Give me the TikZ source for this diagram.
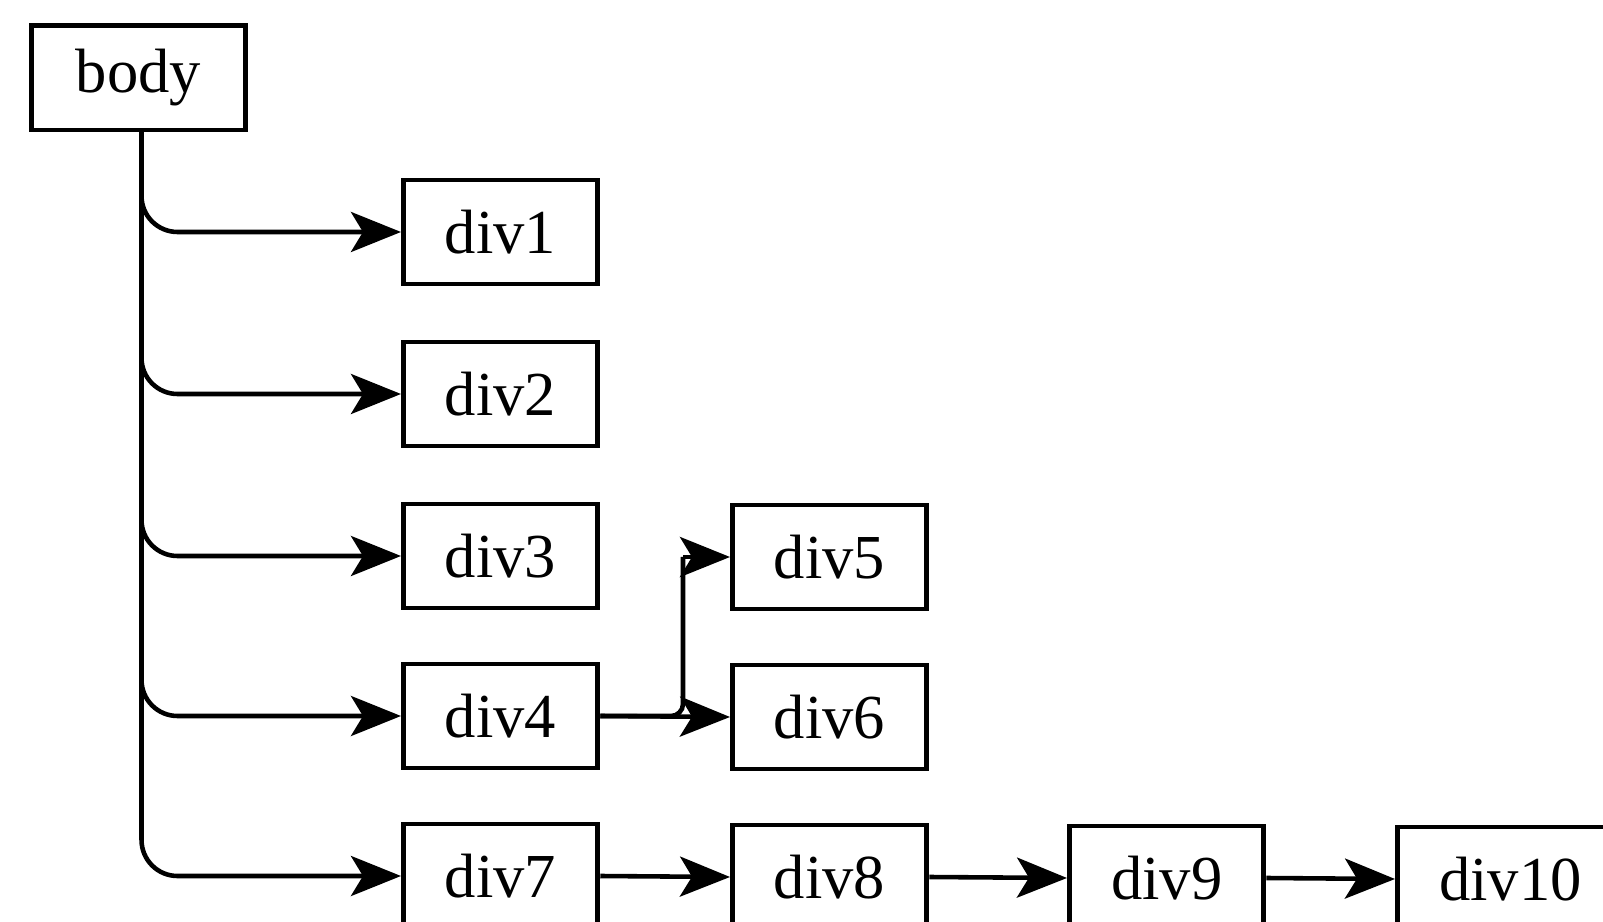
\documentclass[tikz,border=0pt]{standalone}
\usepackage{fontspec}
\setmainfont{Liberation Serif}
\usetikzlibrary{arrows.meta}
\begin{document}
\begin{tikzpicture}[x=0.01cm,y=-0.01cm,
  box/.style={draw, line width=1.4pt, anchor=west, inner xsep=0.415cm, inner ysep=0pt,
    minimum height=1.04cm, font=\fontsize{17.8pt}{20pt}\selectfont},
  line/.style={line width=1.3pt},
  arr/.style={line, -{Stealth[length=0.5cm,width=0.40cm,inset=0.12cm]}}]
\useasboundingbox (0,0) rectangle (1603,922);
\node[box, minimum width=2.14cm] (body) at (29,78) {body};
\node[box] (div1) at (401,232) {div1};
\node[box] (div2) at (401,394) {div2};
\node[box] (div3) at (401,556) {div3};
\node[box] (div4) at (401,716) {div4};
\node[box] (div7) at (401,876) {div7};
\node[box] (div5) at (730,557) {div5};
\node[box] (div6) at (730,717) {div6};
\node[box] (div8) at (730,877) {div8};
\node[box] (div9) at (1067,878) {div9};
\node[box] (div10) at (1395,879) {div10};
\coordinate (j) at (683,716);
\coordinate (k) at (j |- div5.west);
\foreach \n in {div1,div2,div3,div4,div7}
  \draw[arr, rounded corners=0.36cm] ([xshift=0.03cm]body.south) |- (\n.west);
\draw[line, rounded corners=0.12cm] (div4.east) -- (j) -- (k);
\draw[arr] (k) -- (div5.west);
\draw[arr] (div4.east) -- (div6.west);
\draw[arr] (div7.east) -- (div8.west);
\draw[arr] (div8.east) -- (div9.west);
\draw[arr] (div9.east) -- (div10.west);
\end{tikzpicture}
\end{document}
